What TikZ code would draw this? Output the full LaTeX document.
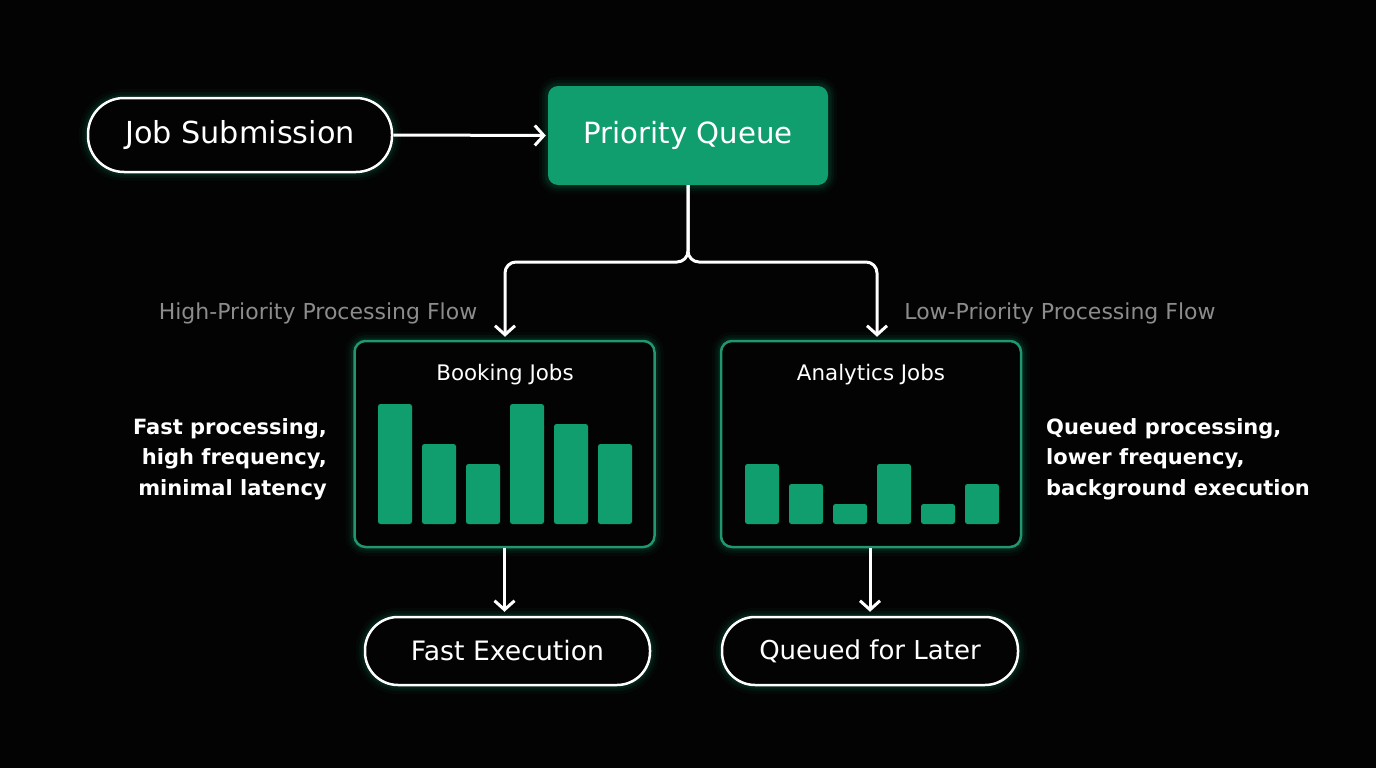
\documentclass[tikz,border=0pt]{standalone}
\usepackage{fontspec}
\setmainfont{DejaVu Sans}
\usetikzlibrary{arrows.meta}
\definecolor{grn}{RGB}{16,158,110}
\definecolor{grnline}{RGB}{34,150,108}
\definecolor{lbl}{RGB}{140,140,140}
\definecolor{bg}{RGB}{3,3,3}
\begin{document}
\begin{tikzpicture}[x=1pt,y=-1pt,
  glow/.style={
    preaction={draw=grn,fill=none,line width=18pt,opacity=0.045},
    preaction={draw=grn,fill=none,line width=12pt,opacity=0.07},
    preaction={draw=grn,fill=none,line width=7pt,opacity=0.11}},
  pill/.style={glow,draw=white,line width=2.5pt,fill=bg,text=white,inner sep=0pt},
  pqbox/.style={glow,fill=grn,rounded corners=10pt,text=white,inner sep=0pt,
    minimum width=280pt,minimum height=99pt,font=\fontsize{29.2}{34}\selectfont},
  jobbox/.style={glow,draw=grnline,line width=2.5pt,fill=bg,rounded corners=11pt,
    minimum width=300pt,minimum height=206pt,inner sep=0pt},
  title/.style={text=white,font=\fontsize{21.4}{25}\selectfont},
  flowlbl/.style={text=lbl,font=\fontsize{22}{26}\selectfont},
  side/.style={text=white,font=\bfseries\fontsize{21}{30.5}\selectfont,inner sep=0pt},
  conn/.style={draw=white,line width=3pt,-{Straight Barb[length=9pt,width=20pt,line width=3pt]}},
  bar/.style={fill=grn,rounded corners=2.5pt}
]
\fill[bg] (0,0) rectangle (1376,768);
\useasboundingbox (0,0) rectangle (1376,768);

% nodes
\node[pill,minimum width=304pt,minimum height=74pt,rounded corners=36pt,
  font=\fontsize{30.3}{34}\selectfont] (js) at (240,135) {Job Submission};
\node[pqbox] (pq) at (688,135.5) {Priority Queue};
\node[jobbox] (bk) at (504.5,444) {};
\node[jobbox] (an) at (871,444) {};
\node[title] (bkt) at (505,375) {Booking Jobs};
\node[title] (ant) at (871,375) {Analytics Jobs};
\node[pill,minimum width=285pt,minimum height=68pt,rounded corners=33pt,
  font=\fontsize{26.7}{32}\selectfont] (fe) at (507.5,651) {Fast Execution};
\node[pill,minimum width=296pt,minimum height=68pt,rounded corners=33pt,
  font=\fontsize{26}{32}\selectfont] (ql) at (870,651) {Queued for Later};

% bars booking
\foreach \x/\t in {378/404,422/444,466/464,510/404,554/424,598/444}
  \fill[bar] (\x,\t) rectangle (\x+34,524);
% bars analytics
\foreach \x/\t in {745/464,789/484,833/504,877/464,921/504,965/484}
  \fill[bar] (\x,\t) rectangle (\x+34,524);

% labels
\node[flowlbl] (hl) at (318,313) {High-Priority Processing Flow};
\node[flowlbl] (ll) at (1060,313) {Low-Priority Processing Flow};
\node[side,align=right,anchor=east] (hs) at (327,459) {Fast processing,\\high frequency,\\minimal latency};
\node[side,align=left,anchor=west] (ls) at (1046,459) {Queued processing,\\lower frequency,\\background execution};

% connectors
\coordinate (jl) at (505,262);
\coordinate (jr) at (877,262);
\draw[conn,shorten >=2pt] (js.east) -- (pq.west);
\draw[conn,rounded corners=11pt,shorten >=3pt] (pq.south) |- (jl) -- (jl |- bk.north);
\draw[conn,rounded corners=11pt,shorten >=3pt] (pq.south) |- (jr) -- (jr |- an.north);
\draw[conn,shorten >=4pt] (bk.south) -- (bk.south |- fe.north);
\draw[conn,shorten >=4pt] (an.south -| ql.north) -- (ql.north);
\end{tikzpicture}
\end{document}
